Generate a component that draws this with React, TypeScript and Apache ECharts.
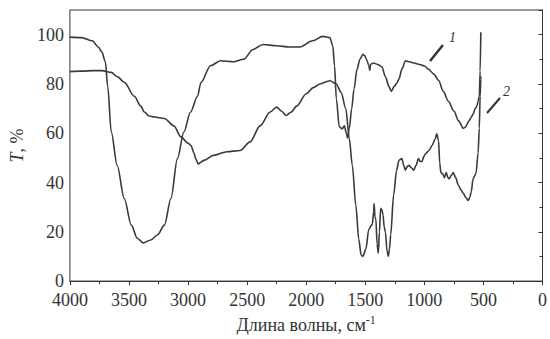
import React, { useEffect, useRef } from "react";
import * as echarts from "echarts";

// Curve 1
const wn1 = [4000,3900,3810,3760,3730,3700,3680,3650,3600,3540,3480,3430,3380,3315,3260,3200,3145,3090,3035,2980,2920,2890,2810,2725,2615,2530,2450,2365,2250,2140,2055,1945,1860,1800,1775,1760,1745,1720,1695,1677,1660,1650,1635,1615,1595,1570,1545,1520,1505,1490,1470,1462,1455,1430,1400,1360,1330,1300,1280,1255,1230,1215,1190,1160,1130,1090,1050,1000,965,920,880,840,797,750,710,670,650,640,629,615,604,585,570,555,545,535,528,522];
const t1 = [99,98.8,97.5,95,93,89,79,60.5,47,33.5,22.7,17.4,15.5,16.7,18.7,22.7,33.5,49.7,60.5,68.5,75,80.7,87.4,89.4,89,90,94,96,95.5,95,95,97.5,99.3,98.8,95.5,87.4,74,62.6,61.8,63,60,58,62,70,78,86,90,92,91.5,90,87.5,85.5,88,88.5,88,87,83,79,77,79,80.5,82,86,89.4,89,88.5,88,87.3,86,84,81.5,77,73,69,65,62,62.5,63.5,64.6,65.5,66.5,68,70,71,73,75,85,101];

// Curve 2
const wn2 = [4000,3900,3800,3730,3650,3600,3540,3455,3400,3370,3330,3285,3200,3120,3060,3000,2975,2950,2935,2915,2900,2865,2785,2670,2560,2475,2390,2305,2250,2210,2170,2130,2080,2000,1940,1885,1800,1745,1705,1665,1635,1610,1580,1555,1535,1520,1495,1470,1450,1440,1430,1425,1418,1410,1400,1390,1380,1370,1360,1350,1340,1330,1315,1305,1295,1285,1260,1235,1215,1190,1175,1160,1145,1130,1110,1090,1070,1050,1035,1020,1005,990,960,935,910,895,880,870,860,845,830,815,800,790,770,755,735,713,690,670,650,629,615,604,587,570,562,545,535,528,522,520];
const t2 = [85,85.2,85.4,85.4,84.7,83,80.7,75,71,68.6,67,66.6,66,63,58.5,56,55,52,49.7,47.5,48,49,51,52.5,53,56.5,63,68.6,70.6,69,67.2,68.5,71,76,78.5,80,81.3,80,76.6,70,57.8,47,30.8,17,10.6,10,13,21,22.5,23,28,31.5,26,25,15,11.3,20,29.5,29,27,22,20,12,10,13,18.7,35,45,49,49.7,47,45,46.5,47,46,45,47,49.7,48.5,48.5,50.5,51.7,53,55,57.5,59.8,57,48,44,43.5,42,44,42,41.5,43,44,42,39,37,35.6,34,32.7,34,36,41.6,43,44,52,62,75,82,83];

const xTicks = { min: 0, max: 4000, interval: 500 };
const yTicks = { min: 0, max: 110, interval: 20 };
const curveLabels = ["1", "2"];

const FONT = "'Liberation Serif', 'Times New Roman', serif";
const INK = "#333";

export default function App() {
  const ref = useRef<HTMLDivElement>(null);
  useEffect(() => {
    if (!ref.current) return;
    const chart = echarts.init(ref.current, undefined, { renderer: "svg" });
    const lineStyle = { color: "#3a3a3a", width: 1.6 };
    chart.setOption({
      animation: false,
      backgroundColor: "#fff",
      grid: { left: 67, right: 5, top: 10, bottom: 54, show: true, borderColor: INK, borderWidth: 1 },
      xAxis: {
        type: "value",
        inverse: true,
        min: xTicks.min,
        max: xTicks.max,
        interval: xTicks.interval,
        name: "Длина волны, см{sup|-1}",
        nameLocation: "middle",
        nameGap: 30,
        nameTextStyle: {
          fontFamily: FONT, fontSize: 18, color: INK,
          rich: { sup: { fontFamily: FONT, fontSize: 12, color: INK, padding: [0, 0, 10, 0] } },
        },
        axisLine: { lineStyle: { color: INK, width: 1 } },
        axisTick: { show: true, length: 4, lineStyle: { color: INK } },
        minorTick: { show: true, splitNumber: 2, length: 3, lineStyle: { color: INK } },
        axisLabel: { fontFamily: FONT, fontSize: 18, lineHeight: 16, color: INK, margin: 11, formatter: (v: number) => String(v) },
        splitLine: { show: false },
      },
      yAxis: {
        type: "value",
        min: yTicks.min,
        max: yTicks.max,
        interval: yTicks.interval,
        name: "{i|T}{n|, %}",
        nameLocation: "middle",
        nameGap: 32,
        nameTextStyle: {
          rich: {
            i: { fontFamily: FONT, fontSize: 18, fontStyle: "italic", color: INK },
            n: { fontFamily: FONT, fontSize: 18, color: INK },
          },
        },
        axisLine: { show: true, lineStyle: { color: INK, width: 1 } },
        axisTick: { show: true, length: 4, lineStyle: { color: INK } },
        minorTick: { show: true, splitNumber: 2, length: 3, lineStyle: { color: INK } },
        axisLabel: { fontFamily: FONT, fontSize: 18, lineHeight: 16, color: INK, margin: 6, showMaxLabel: false, formatter: (v: number) => String(v) },
        splitLine: { show: false },
      },
      series: [
        {
          type: "line",
          data: wn1.map((w, i) => [w, t1[i]]),
          showSymbol: false,
          lineStyle,
          smooth: 0.3,
          smoothMonotone: "x",
        },
        {
          type: "line",
          data: wn2.map((w, i) => [w, t2[i]]),
          showSymbol: false,
          lineStyle,
          smooth: 0.3,
          smoothMonotone: "x",
        },
      ],
      graphic: [
        { type: "line", shape: { x1: 430, y1: 61, x2: 443, y2: 45 }, style: { stroke: "#333", lineWidth: 2.5 } },
        { type: "text", x: 449, y: 30, style: { text: curveLabels[0], font: `italic 14px ${FONT}`, fill: INK } },
        { type: "line", shape: { x1: 487, y1: 113, x2: 500, y2: 98 }, style: { stroke: "#333", lineWidth: 2 } },
        { type: "text", x: 503, y: 84, style: { text: curveLabels[1], font: `italic 14px ${FONT}`, fill: INK } },
      ],
    });
    return () => chart.dispose();
  }, []);
  return <div ref={ref} style={{ width: 550, height: 339, position: "absolute", left: 0, top: 0 }} />;
}
